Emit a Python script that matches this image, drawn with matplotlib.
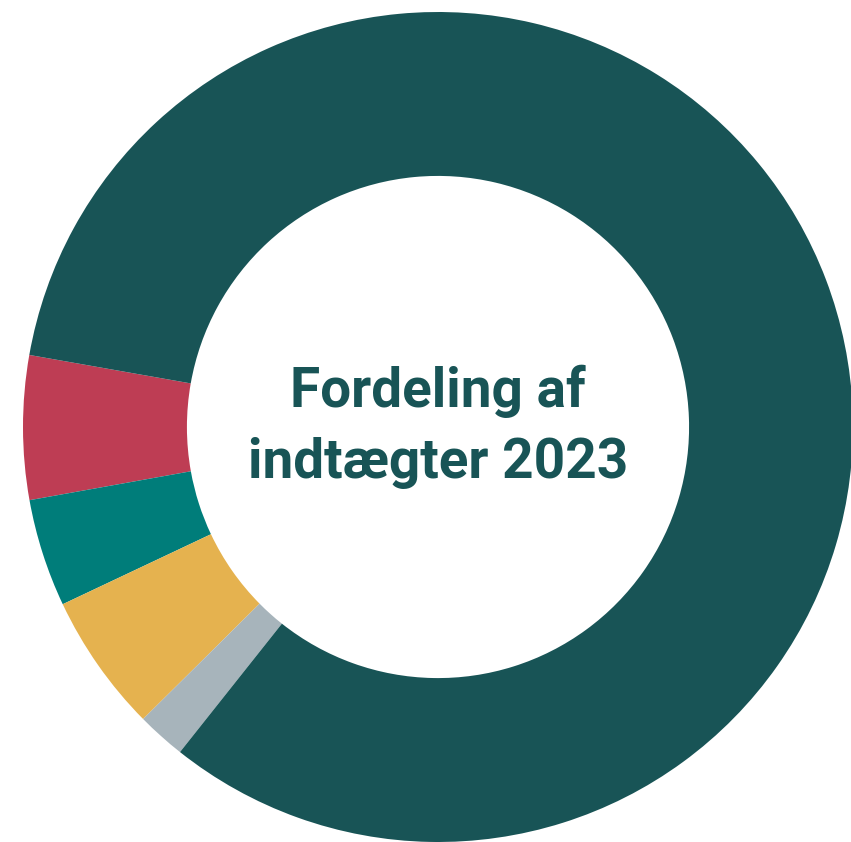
import matplotlib
matplotlib.use("Agg")
import matplotlib.pyplot as plt

categories = ["Rød", "Teal", "Gul", "Grå", "Hovedkilde"]
values = [5.6, 4.2, 5.4, 1.9, 82.9]
colors = ["#BE3D54", "#007D7A", "#E5B24F", "#A7B4BB", "#185456"]
title_lines = ["Fordeling af", "indtægter 2023"]
text_color = "#185456"

W, H = 851, 842
fig = plt.figure(figsize=(W / 100, H / 100), dpi=100)
cx, cy, R = 438, 427, 415
ax = fig.add_axes([(cx - R) / W, (H - cy - R) / H, 2 * R / W, 2 * R / H])
ax.pie(values, colors=colors, startangle=170, counterclock=True, radius=1,
       wedgeprops=dict(width=0.395, linewidth=0, edgecolor="none"))
ax.set_xlim(-1, 1)
ax.set_ylim(-1, 1)
ax.set_aspect("auto")
ax.axis("off")

ax.text(0, 0.048, title_lines[0], ha="center", va="baseline", fontsize=39.5,
        fontweight="bold", family="Roboto", color=text_color)
ax.text(0, -0.123, title_lines[1], ha="center", va="baseline", fontsize=39.5,
        fontweight="bold", family="Roboto", color=text_color)

fig.savefig("out.png", dpi=100, facecolor="white")
